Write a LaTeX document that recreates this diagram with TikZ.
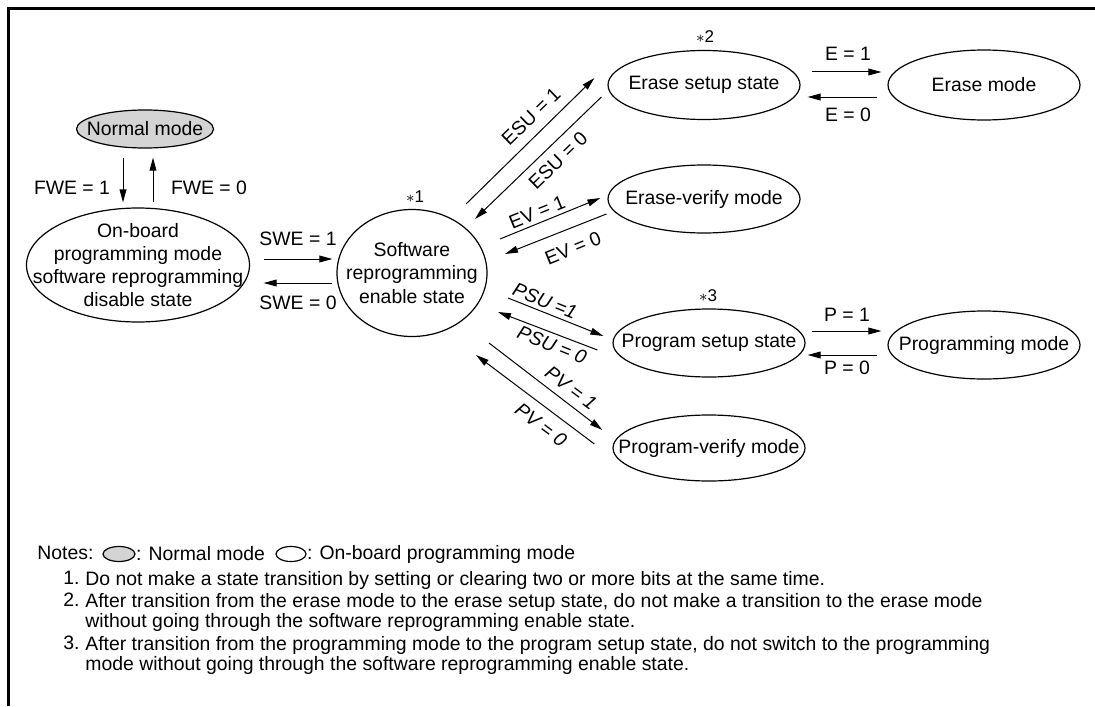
\documentclass[tikz,border=0pt]{standalone}
\usepackage{fontspec}
\setmainfont{Liberation Sans}
\usetikzlibrary{arrows.meta,positioning,shapes.geometric,calc}

\begin{document}
\begin{tikzpicture}[x=0.5pt, y=-0.5pt,
  font=\fontsize{9.7}{11.6}\selectfont,
  state/.style={ellipse, draw, line width=0.6pt, inner xsep=-40pt, inner ysep=-16pt, align=center},
  arr/.style={-{Triangle[length=6.5pt,width=3.4pt]}, line width=0.5pt},
  lbl/.style={inner sep=0pt},
  star/.style={inner sep=0pt, font=\fontsize{8.5}{10}\selectfont},
  note/.style={inner sep=0pt, align=left, anchor=north west, font=\fontsize{9.7}{10}\selectfont}]
  \useasboundingbox (0,0) rectangle (1095,706);
  % frame
  \draw[line width=1.35pt] (8.7,706) -- (8.7,8.7) -- (1095,8.7);

  % states
  \node[state, fill=black!17, minimum width=68.5pt, minimum height=19pt] (nm) at (145,129) {Normal mode};
  \node[state, minimum width=111.5pt, minimum height=57pt] (onb) at (138,265)
    {On-board\\programming mode\\software reprogramming\\disable state};
  \node[state, minimum width=75pt, minimum height=63.5pt] (sw) at (412,273)
    {Software\\reprogramming\\enable state};
  \node[state, minimum width=96pt, minimum height=34.5pt] (es) at (704,85) {Erase setup state};
  \node[state, minimum width=96pt, minimum height=35pt] (em) at (984,85) {Erase mode};
  \node[state, minimum width=96pt, minimum height=34pt] (ev) at (704,199) {Erase-verify mode};
  \node[state, minimum width=96pt, minimum height=34pt] (ps) at (709,343) {Program setup state};
  \node[state, minimum width=96pt, minimum height=34pt] (pm) at (984,345) {Programming mode};
  \node[state, minimum width=96pt, minimum height=33pt] (pv) at (709,448) {Program-verify mode};

  \node[star] at (415,197) {$\ast$1};
  \node[star] at (705,37) {$\ast$2};
  \node[star] at (708,296) {$\ast$3};

  % transitions
  \draw[arr] ([shift={(-22,9)}]nm.south) -- ([shift={(-15,-5)}]onb.north);
  \draw[arr] ([shift={(15,-5)}]onb.north) -- ([shift={(8,9)}]nm.south);
  \node[lbl] at (72,188) {FWE = 1};
  \node[lbl] at (209,188) {FWE = 0};

  \draw[arr] ([shift={(13.5,-6)}]onb.east) -- ([shift={(-4,-14)}]sw.west);
  \draw[arr] ([shift={(-4,10)}]sw.west) -- ([shift={(13.5,18)}]onb.east);
  \node[lbl] at (298,239) {SWE = 1};
  \node[lbl] at (298,303) {SWE = 0};

  \draw[arr] ([shift={(54,-69)}]sw.center) -- ([shift={(-13,-7)}]es.west);
  \draw[arr] ([shift={(-6,12)}]es.west) -- ([shift={(63,-54)}]sw.center);
  \node[lbl, rotate=44] at (531,116) {ESU = 1};
  \node[lbl, rotate=44] at (558,160) {ESU = 0};

  \draw[arr] ([shift={(88,-34)}]sw.center) -- ([shift={(-7,-1)}]ev.west);
  \draw[arr] ([shift={(-1,15)}]ev.west) -- ([shift={(93,-19)}]sw.center);
  \node[lbl, rotate=22] at (537,212) {EV = 1};
  \node[lbl, rotate=22] at (573,248) {EV = 0};

  \draw[arr] ([shift={(96,25)}]sw.center) -- ([shift={(-9,-7)}]ps.west);
  \draw[arr] ([shift={(-15,7)}]ps.west) -- ([shift={(86,39)}]sw.center);
  \node[lbl, rotate=-22, font=\fontsize{9.7}{11.6}\selectfont\itshape] at (545,301) {PSU =1};
  \node[lbl, rotate=-22, font=\fontsize{9.7}{11.6}\selectfont\itshape] at (552,345) {PSU = 0};

  \draw[arr] ([shift={(77,70)}]sw.center) -- ([shift={(-10,-18)}]pv.west);
  \draw[arr] ([shift={(-18,-4)}]pv.west) -- ([shift={(64,82)}]sw.center);
  \node[lbl, rotate=-37, font=\fontsize{9.7}{11.6}\selectfont\itshape] at (571,388) {PV = 1};
  \node[lbl, rotate=-37, font=\fontsize{9.7}{11.6}\selectfont\itshape] at (541,425) {PV = 0};

  \draw[arr] ([shift={(11,-13)}]es.east) -- ([shift={(-6,-13)}]em.west);
  \draw[arr] ([shift={(-10,12)}]em.west) -- ([shift={(7,12)}]es.east);
  \node[lbl] at (848,54) {E = 1};
  \node[lbl] at (848,115) {E = 0};

  \draw[arr] ([shift={(6,-12)}]ps.east) -- ([shift={(-6,-14)}]pm.west);
  \draw[arr] ([shift={(-10,10)}]pm.west) -- ([shift={(2,12)}]ps.east);
  \node[lbl] at (847,315) {P = 1};
  \node[lbl] at (847,368) {P = 0};

  % notes
  \node[lbl, anchor=west] (notes) at (37,553) {Notes:};
  \node[state, fill=black!17, minimum width=16pt, minimum height=7.5pt] (lgn) at (119,554) {};
  \node[lbl, right=0pt of lgn] {: Normal mode};
  \node[state, minimum width=15pt, minimum height=7.5pt] (lgo) at (291,554) {};
  \node[lbl, right=0pt of lgo] {: On-board programming mode};

  \node[note] at (63,571) {1.};
  \node[note] at (85,571) {Do not make a state transition by setting or clearing two or more bits at the same time.};
  \node[note] at (63,593) {2.};
  \node[note] at (85,593) {After transition from the erase mode to the erase setup state, do not make a transition to the erase mode\\
    without going through the software reprogramming enable state.};
  \node[note] at (63,636) {3.};
  \node[note] at (85,636) {After transition from the programming mode to the program setup state, do not switch to the programming\\
    mode without going through the software reprogramming enable state.};
\end{tikzpicture}
\end{document}
